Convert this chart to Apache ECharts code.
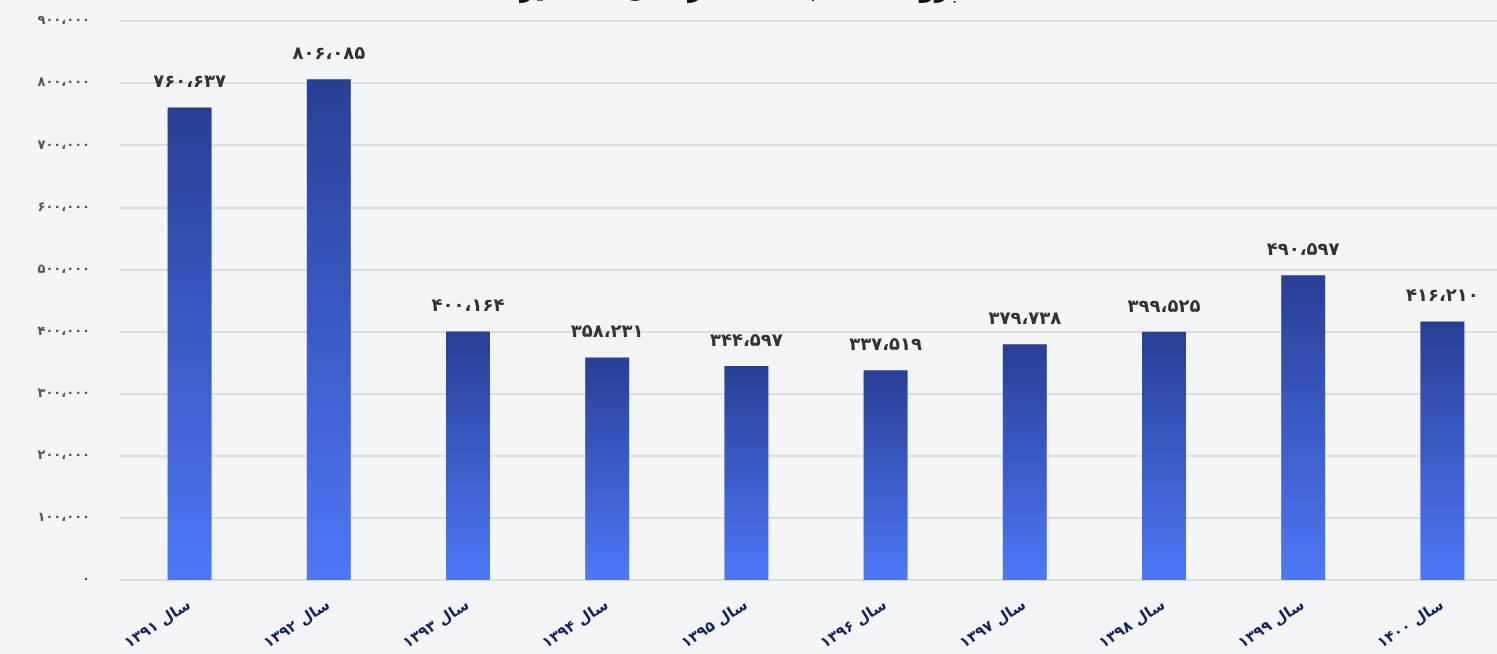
<!DOCTYPE html>
<html>
<head>
<meta charset="utf-8">
<script src="https://cdn.jsdelivr.net/npm/echarts@6/dist/echarts.min.js"></script>
<style>
  html, body { margin: 0; padding: 0; background: #f4f5f7; }
  #chart { width: 1497px; height: 654px; }
</style>
</head>
<body>
<div id="chart"></div>
<script>
const years = ['۱۳۹۱', '۱۳۹۲', '۱۳۹۳', '۱۳۹۴', '۱۳۹۵', '۱۳۹۶', '۱۳۹۷', '۱۳۹۸', '۱۳۹۹', '۱۴۰۰']
const values = [760637, 806085, 400164, 358231, 344597, 337519, 379738, 399525, 490597, 416210]
const titleText = 'پرونده‌های ثبت شده در سال‌های اخیر'

// persian digits with arabic comma
function fa(n) {
  const s = String(n).replace(/\B(?=(\d{3})+(?!\d))/g, '،')
  return s.replace(/\d/g, d => '۰۱۲۳۴۵۶۷۸۹'[d])
}

const chart = echarts.init(document.getElementById('chart'))
const font = '"DejaVu Sans", sans-serif'

chart.setOption({
  backgroundColor: '#f4f5f7',
  textStyle: { fontFamily: font },
  title: {
    text: titleText,
    left: 515,
    top: -26,
    textStyle: { fontSize: 24, fontWeight: 'bold', color: '#111', fontFamily: font }
  },
  grid: { left: 120, right: -15, top: 21, bottom: 74, outerBoundsMode: 'none' },
  xAxis: {
    type: 'category',
    data: years.map(y => 'سال ' + y),
    axisLine: { show: false },
    axisTick: { show: false },
    axisLabel: {
      rotate: 33,
      margin: 24,
      color: '#13235f',
      fontSize: 15,
      fontWeight: 'bold'
    }
  },
  yAxis: {
    type: 'value',
    min: 0,
    max: 900000,
    interval: 100000,
    axisLine: { show: false },
    axisTick: { show: false },
    splitLine: { lineStyle: { color: '#dcdde0', width: 2 } },
    axisLabel: {
      color: '#555',
      fontSize: 13,
      fontWeight: 'bold',
      margin: 30,
      formatter: v => fa(v)
    }
  },
  series: [{
    type: 'bar',
    data: values,
    barWidth: 44,
    itemStyle: {
      color: new echarts.graphic.LinearGradient(0, 0, 0, 1, [
        { offset: 0, color: '#283f94' },
        { offset: 1, color: '#4e78f7' }
      ])
    },
    label: {
      show: true,
      position: 'top',
      distance: 16,
      color: '#333',
      fontSize: 18,
      fontWeight: 'bold',
      formatter: p => fa(p.value)
    }
  }]
})
</script>
</body>
</html>
